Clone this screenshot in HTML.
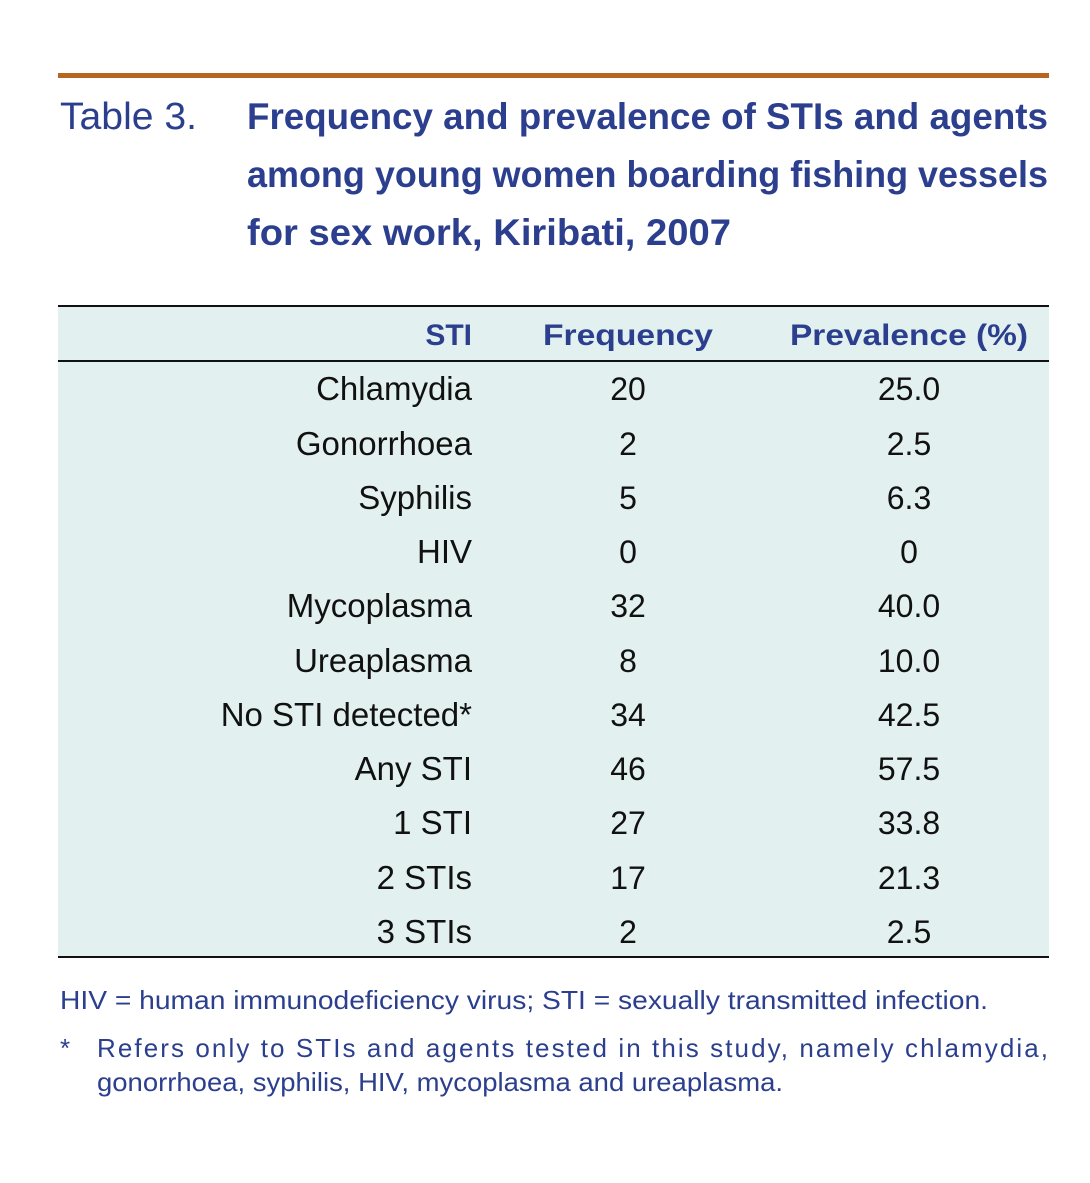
<!DOCTYPE html>
<html><head><meta charset="utf-8"><style>
html,body{margin:0;padding:0;background:#fff;}
svg{display:block;}
text{font-family:"Liberation Sans",sans-serif;}
</style></head><body>
<svg width="1090" height="1183" viewBox="0 0 1090 1183" xmlns="http://www.w3.org/2000/svg">
<rect x="58" y="73" width="991" height="5" fill="#b8651f"/>
<text x="60" y="129" font-size="38" fill="#2b3f8e" textLength="137" lengthAdjust="spacingAndGlyphs">Table 3.</text>
<g font-size="37" font-weight="bold" fill="#2b3f8e">
<text x="247" y="129" textLength="801" lengthAdjust="spacingAndGlyphs">Frequency and prevalence of STIs and agents</text>
<text x="247" y="187" textLength="801" lengthAdjust="spacingAndGlyphs">among young women boarding fishing vessels</text>
<text x="247" y="245" textLength="484" lengthAdjust="spacingAndGlyphs">for sex work, Kiribati, 2007</text>
</g>
<rect x="58" y="306" width="991" height="652" fill="#e2f1ef"/>
<rect x="58" y="305" width="991" height="2" fill="#111"/>
<rect x="58" y="360" width="991" height="2" fill="#111"/>
<rect x="58" y="956" width="991" height="2" fill="#111"/>
<g font-size="30" font-weight="bold" fill="#2b3f8e">
<text x="472" y="345" text-anchor="end">STI</text>
<text x="628" y="345" text-anchor="middle" textLength="170" lengthAdjust="spacingAndGlyphs">Frequency</text>
<text x="909" y="345" text-anchor="middle" textLength="238" lengthAdjust="spacingAndGlyphs">Prevalence (%)</text>
</g>
<g font-size="33" fill="#111">
<g text-anchor="end">
<text x="472" y="400">Chlamydia</text>
<text x="472" y="455">Gonorrhoea</text>
<text x="472" y="509">Syphilis</text>
<text x="472" y="563">HIV</text>
<text x="472" y="617">Mycoplasma</text>
<text x="472" y="672">Ureaplasma</text>
<text x="472" y="726">No STI detected*</text>
<text x="472" y="780">Any STI</text>
<text x="472" y="834">1 STI</text>
<text x="472" y="889">2 STIs</text>
<text x="472" y="943">3 STIs</text>
</g>
<g text-anchor="middle" font-size="32">
<text x="628" y="400">20</text><text x="909" y="400">25.0</text>
<text x="628" y="455">2</text><text x="909" y="455">2.5</text>
<text x="628" y="509">5</text><text x="909" y="509">6.3</text>
<text x="628" y="563">0</text><text x="909" y="563">0</text>
<text x="628" y="617">32</text><text x="909" y="617">40.0</text>
<text x="628" y="672">8</text><text x="909" y="672">10.0</text>
<text x="628" y="726">34</text><text x="909" y="726">42.5</text>
<text x="628" y="780">46</text><text x="909" y="780">57.5</text>
<text x="628" y="834">27</text><text x="909" y="834">33.8</text>
<text x="628" y="889">17</text><text x="909" y="889">21.3</text>
<text x="628" y="943">2</text><text x="909" y="943">2.5</text>
</g>
</g>
<g font-size="26" fill="#2b3f8e">
<text x="60" y="1009" textLength="928" lengthAdjust="spacingAndGlyphs">HIV = human immunodeficiency virus; STI = sexually transmitted infection.</text>
<text x="60" y="1057">*</text>
<text x="97" y="1057" textLength="951" lengthAdjust="spacing">Refers only to STIs and agents tested in this study, namely chlamydia,</text>
<text x="97" y="1091" textLength="686" lengthAdjust="spacingAndGlyphs">gonorrhoea, syphilis, HIV, mycoplasma and ureaplasma.</text>
</g>
</svg>
</body></html>
